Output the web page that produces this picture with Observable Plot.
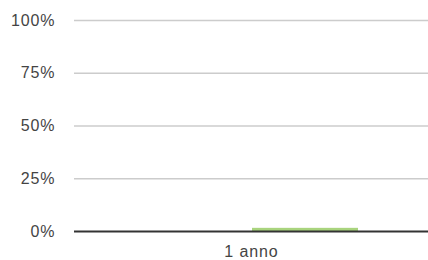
<!DOCTYPE html>
<html>
<head>
<meta charset="utf-8">
<script src="https://cdn.jsdelivr.net/npm/d3@7"></script>
<script src="https://cdn.jsdelivr.net/npm/@observablehq/plot@0.6"></script>
<style>
  html, body { margin: 0; padding: 0; background: #fff; }
  #chart { width: 428px; height: 260px; }
  #chart svg text { letter-spacing: 0.9px; }
</style>
</head>
<body>
<div id="chart"></div>
<script>
const periods = ["1 anno"];
const series = ["Serie A", "Serie B"];
const valuesA = [0];
const valuesB = [1.5];
const yTicks = [0, 25, 50, 75, 100];
const colors = ["#5b9bd5", "#a9d47e"];

const data = [];
periods.forEach((p, i) => {
  data.push({period: p, series: series[0], value: valuesA[i]});
  data.push({period: p, series: series[1], value: valuesB[i]});
});

const chart = Plot.plot({
  width: 428,
  height: 260,
  marginLeft: 74,
  marginRight: 0,
  marginTop: 20,
  marginBottom: 29,
  style: {fontFamily: "'Liberation Sans', Arial, sans-serif", fontSize: "16px", color: "#444", background: "#fff"},
  fx: {domain: periods, padding: 0, label: null, axis: "bottom", tickSize: 0, tickPadding: 14},
  x: {domain: series, paddingInner: 0.01, paddingOuter: 0.65, axis: null},
  y: {domain: [0, 100], ticks: yTicks, tickFormat: d => d + "%", tickSize: 0, tickPadding: 19, label: null},
  color: {domain: series, range: colors},
  marks: [
    Plot.gridY(yTicks.filter(t => t > 0), {stroke: "#cccccc", strokeOpacity: 1, strokeWidth: 1.3}),
    Plot.barY(data, {fx: "period", x: "series", y: "value", fill: "series"}),
    Plot.ruleY([0], {stroke: "#333333", strokeWidth: 2})
  ]
});
document.getElementById("chart").appendChild(chart);
</script>
</body>
</html>
